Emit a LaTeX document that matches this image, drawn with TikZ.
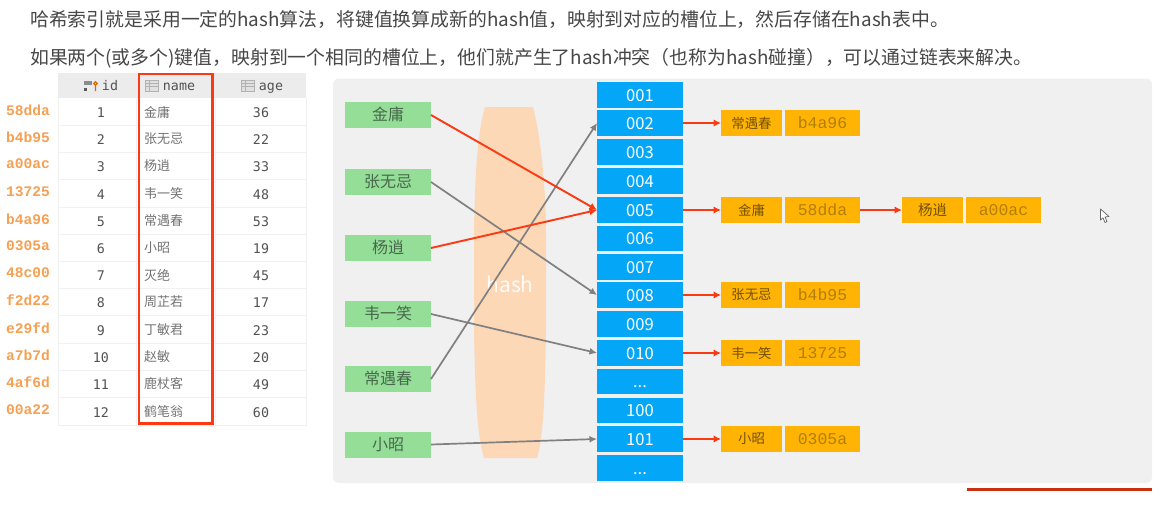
\documentclass[tikz,border=0pt]{standalone}
\usepackage{fontspec}
\usetikzlibrary{arrows.meta}
\setmainfont{Noto Sans CJK SC}
\newfontfamily\keyfont{Liberation Mono}
\newfontfamily\tabfont{DejaVu Sans Mono}
\newcommand\threedots{...}
\definecolor{panelc}{HTML}{F0F0F1}
\definecolor{greenc}{HTML}{94DE98}
\definecolor{bluec}{HTML}{04A6F8}
\definecolor{orangec}{HTML}{FFB405}
\definecolor{hashc}{HTML}{FDD8B6}
\definecolor{redc}{HTML}{FB3A14}
\definecolor{greyc}{HTML}{808080}
\definecolor{keyc}{HTML}{F5A052}
\definecolor{headc}{HTML}{ECECEC}
\definecolor{linec}{HTML}{F1F1F1}
\definecolor{greentxt}{HTML}{48684C}
\definecolor{barc}{HTML}{C9300F}
\tikzset{
  greenbox/.style={fill=greenc,inner sep=0pt,outer sep=0pt,minimum width=86pt,minimum height=26pt,text height=12.5pt,text depth=1pt,text=greentxt,font=\fontsize{16}{17}\selectfont},
  bluebox/.style={fill=bluec,inner sep=0pt,outer sep=0pt,minimum width=86pt,minimum height=25.6pt,text height=12pt,text depth=0pt,text=white,font=\fontsize{16.6}{18}\selectfont},
  orangename/.style={fill=orangec,inner sep=0pt,outer sep=0pt,minimum width=61pt,minimum height=25.6pt,text=black!55!orangec,font=\fontsize{13.4}{14}\selectfont},
  orangekey/.style={fill=orangec,inner sep=0pt,outer sep=0pt,minimum width=75.5pt,minimum height=25.6pt,text=black!30!orangec,font=\keyfont\fontsize{16.4}{17}\selectfont},
  para/.style={inner sep=0pt,anchor=west,text=black!72,font=\fontsize{18.85}{20}\selectfont},
  keytxt/.style={inner sep=0pt,text=keyc,font=\keyfont\bfseries\fontsize{14.6}{15}\selectfont},
  tabnum/.style={inner sep=0pt,text=black!68,font=\tabfont\fontsize{13.3}{15}\selectfont},
  tabname/.style={inner sep=0pt,anchor=west,text=black!55,font=\fontsize{13}{15}\selectfont},
  redarrow/.style={draw=redc,line width=1.9pt,-{Latex[length=7.5pt,width=7.5pt]}},
  greyarrow/.style={draw=greyc,line width=1.7pt,-{Latex[length=7.5pt,width=7pt]}},
  tabicon/.style={draw=black!30,fill=black!12,line width=.5pt}
}
\begin{document}
\begin{tikzpicture}[x=1pt,y=-1pt]
\useasboundingbox (0,0) rectangle (1162,504);
\fill[white] (0,0) rectangle (1162,504);
% paragraph text
\node[para] (p1) at (30,20) {哈希索引就是采用一定的hash算法，将键值换算成新的hash值，映射到对应的槽位上，然后存储在hash表中。};
\node[para] (p2) at (30,58) {如果两个(或多个)键值，映射到一个相同的槽位上，他们就产生了hash冲突（也称为hash碰撞），可以通过链表来解决。};
% table
\fill[headc] (58,73) rectangle (306,98);
\foreach \i/\k/\nm/\a [count=\n] in {112/58dda/金庸/36,139/b4b95/张无忌/22,166/a00ac/杨逍/33,194/13725/韦一笑/48,221/b4a96/常遇春/53,248/0305a/小昭/19,275/48c00/灭绝/45,302/f2d22/周芷若/17,330/e29fd/丁敏君/23,357/a7b7d/赵敏/20,384/4af6d/鹿杖客/49,412/00a22/鹤笔翁/60}{
  \draw[linec,line width=1pt] (58,\i+13.5) -- (306,\i+13.5);
  \node[keytxt] (key\n) at (28,\i-2) {\k};
  \node[tabnum] (id\n) at (101,\i+.5) {\n};
  \node[tabname] (nm\n) at (144,\i) {\nm};
  \node[tabnum] (ag\n) at (261,\i+.5) {\a};
}
\draw[linec,line width=1pt] (58,98) -- (58,425.5) (136,98) -- (136,425.5) (215,98) -- (215,425.5) (306,98) -- (306,425.5);
\node[tabnum,anchor=base] (hid) at (110,90.5) {id};
\node[tabnum,anchor=base] (hname) at (179,90.5) {name};
\node[tabnum,anchor=base] (hage) at (271,90.5) {age};
% header icons
\fill[black!45] (84,81) rectangle (92,85);
\fill[black!65] (84,88) rectangle (87,91);
\draw[orange!85!black,line width=1.2pt] (95.5,83.5) circle (1.8pt) (95.5,85.5) -- (95.5,91);
\foreach \x in {145,241}{
  \draw[tabicon] (\x,80.5) rectangle ++(13,11);
  \draw[black!30,line width=.5pt] (\x,83.5) -- ++(13,0) (\x,86.5) -- ++(13,0) (\x+4,80.5) -- ++(0,11);
}
\draw[redc,line width=2.6pt] (139,74) rectangle (212.7,423.7);
% panel
\fill[panelc,rounded corners=6pt] (333,78.5) rectangle (1152,483);
% hash band
\fill[hashc] (485,107) .. controls (478,130) and (475,170) .. (474,230) -- (474,330) .. controls (475,400) and (478,440) .. (484,458) -- (537,458) .. controls (543,440) and (545,400) .. (546,330) -- (546,230) .. controls (545,170) and (539,130) .. (533,107) -- cycle;
\node[inner sep=0pt,text=white,opacity=.9,font=\fontsize{21}{22}\selectfont] (hashlbl) at (510,284) {hash};
% green keys
\foreach \y/\t/\nm in {115/金庸/g1,182/张无忌/g2,248/杨逍/g3,314/韦一笑/g4,379/常遇春/g5,444.5/小昭/g6}{
  \node[greenbox] (\nm) at (388,\y) {\t};
}
% slots
\foreach \y/\t/\nm in {95/001/s1,123/002/s2,152/003/s3,181/004/s4,210/005/s5,238.5/006/s6,267/007/s7,295/008/s8,324/009/s9,353/010/s10,381.5/\threedots/s11,410.5/100/s12,439/101/s13,468/\threedots/s14}{
  \node[bluebox] (\nm) at (640,\y) {\t};
}
% chain entries
\foreach \y/\a/\b/\nm in {123/常遇春/b4a96/c2,210/金庸/58dda/c5,295/张无忌/b4b95/c8,353/韦一笑/13725/c10,439/小昭/0305a/c13}{
  \node[orangename] (\nm a) at (751.5,\y) {\a};
  \node[orangekey] (\nm b) at (822.5,\y) {\b};
}
\node[orangename,font=\fontsize{14.5}{15}\selectfont] (c5c) at (932.5,210) {杨逍};
\node[orangekey] (c5d) at (1003.5,210) {a00ac};
% connectors
\draw[greyarrow] (g2.east) -- (s8.west);
\draw[greyarrow] (g4.east) -- (s10.west);
\draw[greyarrow] (g5.east) -- (s2.west);
\draw[greyarrow] (g6.east) -- (s13.west);
\draw[redarrow] (g1.east) -- (s5.west);
\draw[redarrow] (g3.east) -- (s5.west);
\draw[redarrow] (s2.east) -- (c2a.west);
\draw[redarrow] (s5.east) -- (c5a.west);
\draw[redarrow] (s8.east) -- (c8a.west);
\draw[redarrow] (s10.east) -- (c10a.west);
\draw[redarrow] (s13.east) -- (c13a.west);
\draw[redarrow] (c5b.east) -- (c5c.west);
% mouse cursor
\draw[black!60,fill=white,line width=.7pt,line join=round] (1100.5,209) -- (1100.5,220) -- (1103,217.8) -- (1105,222.5) -- (1107,221.5) -- (1105,217) -- (1109,216.5) -- cycle;
% red bar at the bottom
\fill[barc] (967,488) rectangle (1152,491);
\end{tikzpicture}
\end{document}
